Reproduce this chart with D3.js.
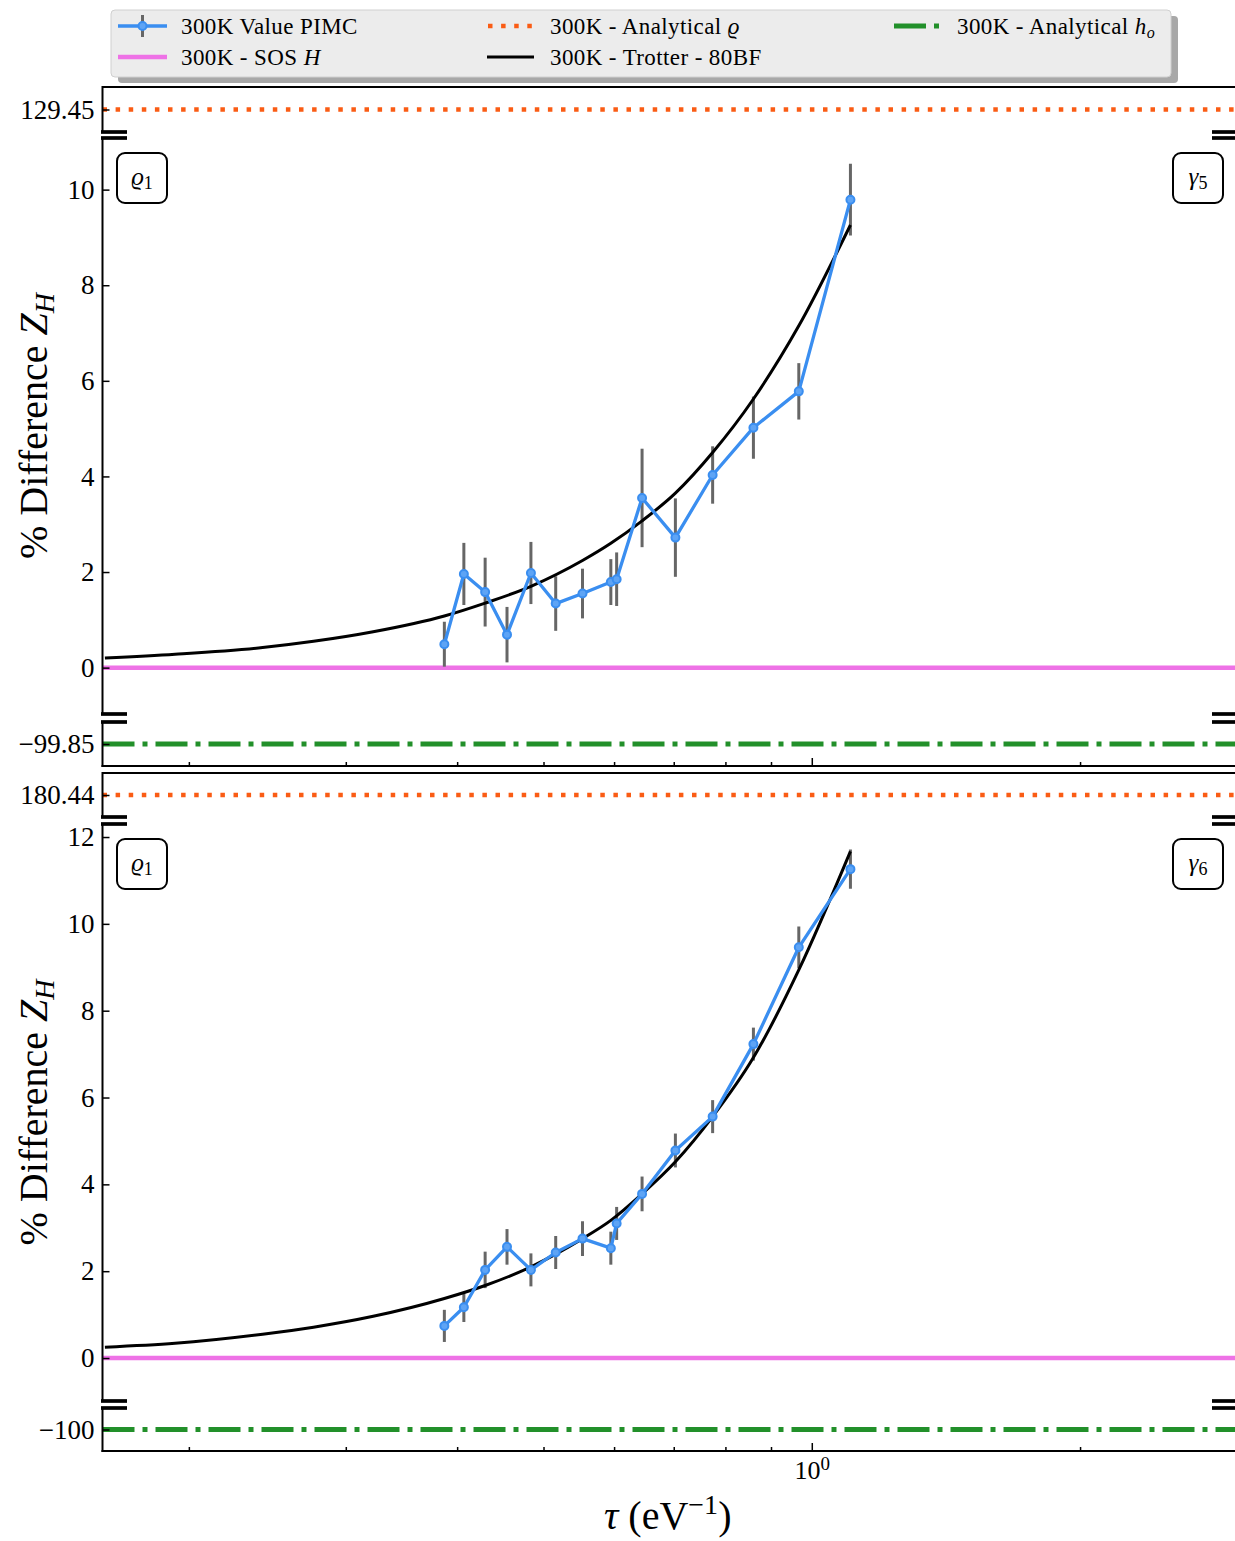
<!DOCTYPE html>
<html>
<head>
<meta charset="utf-8">
<script src="https://cdn.jsdelivr.net/npm/d3@7"></script>
<style>
  html, body { margin: 0; padding: 0; background: #fff; }
  svg { display: block; }
  text { font-family: "Liberation Serif", "DejaVu Serif", serif; fill: #000; }
</style>
</head>
<body>
<svg id="chart" width="1235" height="1541"></svg>
<script>
// Imaginary-time step tau = beta / P (eV^-1) of the PIMC runs at 300 K
const tau = [0.387, 0.407, 0.430, 0.455, 0.484, 0.516, 0.553, 0.595, 0.604, 0.645, 0.703, 0.774, 0.860, 0.967, 1.105];

// % difference of Z_H, system gamma5 (upper panel)
const pimcG5 = [0.49, 1.96, 1.58, 0.69, 1.98, 1.34, 1.55, 1.79, 1.85, 3.55, 2.72, 4.03, 5.02, 5.78, 9.79];
const errG5  = [0.47, 0.65, 0.72, 0.58, 0.65, 0.57, 0.52, 0.48, 0.56, 1.03, 0.82, 0.60, 0.65, 0.59, 0.75];

// % difference of Z_H, system gamma6 (lower panel)
const pimcG6 = [0.74, 1.17, 2.03, 2.56, 2.03, 2.43, 2.75, 2.53, 3.10, 3.78, 4.78, 5.56, 7.23, 9.46, 11.26];
const errG6  = [0.37, 0.34, 0.42, 0.41, 0.38, 0.38, 0.40, 0.38, 0.38, 0.40, 0.39, 0.38, 0.38, 0.48, 0.45];

// Trotter (80 basis functions) reference curve
const trotterTau = [0.161, 0.193, 0.242, 0.276, 0.322, 0.387, 0.430, 0.484, 0.553, 0.595, 0.645, 0.703, 0.774, 0.860, 0.967, 1.105];
const trotterG5  = [0.20, 0.28, 0.42, 0.55, 0.75, 1.08, 1.35, 1.70, 2.24, 2.60, 3.07, 3.65, 4.50, 5.62, 7.15, 9.26];
const trotterG6  = [0.25, 0.34, 0.55, 0.71, 0.96, 1.37, 1.67, 2.10, 2.75, 3.17, 3.78, 4.52, 5.56, 6.92, 8.94, 11.67];

// Constant reference levels per panel
const sosLevel      = [0, 0];
const analyticalRho = [129.45, 180.44];
const analyticalHo  = [-99.85, -100];

// Axis ticks
const yTicksG5 = [0, 2, 4, 6, 8, 10];
const yTicksG6 = [0, 2, 4, 6, 8, 10, 12];

// Panel tags
const basisTag  = ["ϱ", "1"];
const systemTag = [["γ", "5"], ["γ", "6"]];

// Legend entries (column-major order)
const legendLabels = [
  ["300K Value PIMC"],
  ["300K - SOS ", "H"],
  ["300K - Analytical ", "ϱ"],
  ["300K - Trotter - 80BF"],
  ["300K - Analytical ", "h", "o"]
];

const colors = {
  pimc: "#3a8ef0",
  err: "#666666",
  sos: "#ee72e6",
  rho: "#fa5c14",
  ho: "#22902a",
  trotter: "#000000"
};

const svg = d3.select("#chart");
const xL = 102.5, xR = 1237;
const x = d3.scaleLog().domain([0.16, 3.0]).range([xL, xR]);

const layout = [
  { top: [87, 132], main: [138, 714], bot: [722, 766], mainDomain: [-0.97, 11.08] },
  { top: [773, 817], main: [824, 1401], bot: [1408, 1451], mainDomain: [-0.99, 12.3] }
];
const series = [
  { pimc: pimcG5, err: errG5, trotter: trotterG5, ticks: yTicksG5 },
  { pimc: pimcG6, err: errG6, trotter: trotterG6, ticks: yTicksG6 }
];

const fmt = d => (d < 0 ? "\u2212" + Math.abs(d) : String(d));
const defs = svg.append("defs");

function clipRect(id, y0, y1) {
  defs.append("clipPath").attr("id", id)
    .append("rect").attr("x", xL).attr("y", y0).attr("width", xR - xL).attr("height", y1 - y0);
  return `url(#${id})`;
}

function styleAxis(g, size) {
  g.attr("font-size", size).attr("font-family", '"Liberation Serif","DejaVu Serif",serif');
  g.select(".domain").remove();
  g.selectAll(".tick line").attr("stroke", "#000").attr("stroke-width", 1.5);
}

layout.forEach((L, i) => {
  const S = series[i];
  const g = svg.append("g");

  const yTop = d3.scaleLinear().domain([analyticalRho[i] - 1, analyticalRho[i] + 1]).range([L.top[1], L.top[0]]);
  const yMain = d3.scaleLinear().domain(L.mainDomain).range([L.main[1], L.main[0]]);
  const yBot = d3.scaleLinear().domain([analyticalHo[i] - 1, analyticalHo[i] + 1]).range([L.bot[1], L.bot[0]]);

  // upper strip: analytical rho
  g.append("line")
    .attr("x1", xL).attr("x2", xR)
    .attr("y1", yTop(analyticalRho[i])).attr("y2", yTop(analyticalRho[i]))
    .attr("stroke", colors.rho).attr("stroke-width", 4.5)
    .attr("stroke-dasharray", "4.5,8.6");

  // main area
  const gm = g.append("g").attr("clip-path", clipRect("clipMain" + i, L.main[0], L.main[1]));

  gm.append("line")
    .attr("x1", xL).attr("x2", xR)
    .attr("y1", yMain(sosLevel[i])).attr("y2", yMain(sosLevel[i]))
    .attr("stroke", colors.sos).attr("stroke-width", 4.5);

  gm.selectAll("line.err").data(tau).join("line").attr("class", "err")
    .attr("x1", d => x(d)).attr("x2", d => x(d))
    .attr("y1", (d, k) => yMain(S.pimc[k] - S.err[k]))
    .attr("y2", (d, k) => yMain(S.pimc[k] + S.err[k]))
    .attr("stroke", colors.err).attr("stroke-width", 3);

  const trotterLine = d3.line()
    .x((d, k) => x(trotterTau[k]))
    .y(d => yMain(d))
    .curve(d3.curveMonotoneX);
  gm.append("path").datum(S.trotter)
    .attr("d", trotterLine)
    .attr("fill", "none").attr("stroke", colors.trotter).attr("stroke-width", 3);

  const pimcLine = d3.line()
    .x((d, k) => x(tau[k]))
    .y(d => yMain(d));
  gm.append("path").datum(S.pimc)
    .attr("d", pimcLine)
    .attr("fill", "none").attr("stroke", colors.pimc).attr("stroke-width", 3.3)
    .attr("stroke-linejoin", "round");

  gm.selectAll("circle.pt").data(S.pimc).join("circle").attr("class", "pt")
    .attr("cx", (d, k) => x(tau[k])).attr("cy", d => yMain(d))
    .attr("r", 4).attr("fill", "#5ea4f5").attr("stroke", colors.pimc).attr("stroke-width", 2);

  // lower strip: analytical h_o
  g.append("line")
    .attr("x1", xL).attr("x2", xR)
    .attr("y1", yBot(analyticalHo[i])).attr("y2", yBot(analyticalHo[i]))
    .attr("stroke", colors.ho).attr("stroke-width", 5)
    .attr("stroke-dasharray", "32,8,5,8");

  // spines
  const spine = (x1, y1, x2, y2) => g.append("line")
    .attr("x1", x1).attr("y1", y1).attr("x2", x2).attr("y2", y2)
    .attr("stroke", "#000").attr("stroke-width", 2);
  spine(xL, L.top[0], xR, L.top[0]);
  spine(xL, L.top[0] - 1, xL, L.top[1]);
  spine(xL, L.main[0], xL, L.main[1]);
  spine(xL, L.bot[0], xL, L.bot[1] + 1);
  spine(xL - 1, L.bot[1], xR, L.bot[1]);

  // break marks
  [L.top[1], L.main[0], L.main[1], L.bot[0]].forEach(yy => {
    g.append("line").attr("x1", xL - 1.5).attr("x2", xL + 24.5).attr("y1", yy).attr("y2", yy)
      .attr("stroke", "#000").attr("stroke-width", 3.7);
    g.append("line").attr("x1", xR - 25).attr("x2", xR + 1).attr("y1", yy).attr("y2", yy)
      .attr("stroke", "#000").attr("stroke-width", 3.7);
  });

  // y axes
  const yAxis = (scale, vals) => g.append("g")
    .attr("transform", `translate(${xL},0)`)
    .call(d3.axisLeft(scale).tickValues(vals).tickSizeInner(-7).tickSizeOuter(0).tickPadding(8).tickFormat(fmt))
    .call(a => styleAxis(a, 27));
  yAxis(yTop, [analyticalRho[i]]);
  yAxis(yMain, S.ticks);
  yAxis(yBot, [analyticalHo[i]]);

  // x axis ticks on the bottom spine
  const allTicks = x.ticks();
  const isMajor = t => Math.abs(Math.log10(t) - Math.round(Math.log10(t))) < 1e-9;
  g.append("g").attr("transform", `translate(0,${L.bot[1]})`)
    .call(d3.axisBottom(x).tickValues(allTicks.filter(t => !isMajor(t))).tickSizeInner(-4).tickSizeOuter(0).tickFormat(""))
    .call(a => styleAxis(a, 26));
  const major = g.append("g").attr("transform", `translate(0,${L.bot[1]})`)
    .call(d3.axisBottom(x).tickValues(allTicks.filter(isMajor)).tickSizeInner(-8).tickSizeOuter(0).tickPadding(10)
      .tickFormat(i === 1 ? (d => "10") : ""))
    .call(a => styleAxis(a, 26));
  if (i === 1) {
    major.selectAll(".tick text").each(function (d) {
      const t = d3.select(this);
      t.text(null);
      t.append("tspan").text("10");
      t.append("tspan").attr("dy", -9).attr("font-size", 19).text(String(Math.round(Math.log10(d))));
    });
  }

  // y label
  const ylab = g.append("text")
    .attr("transform", `translate(47,${(L.main[0] + L.main[1]) / 2}) rotate(-90)`)
    .attr("text-anchor", "middle").attr("font-size", 40);
  ylab.append("tspan").text("% Difference ");
  ylab.append("tspan").attr("font-style", "italic").text("Z");
  ylab.append("tspan").attr("font-style", "italic").attr("font-size", 28).attr("dy", 7).text("H");

  // panel tags
  const tag = (bx, sym, sub) => {
    g.append("rect").attr("x", bx).attr("y", L.main[0] + 15).attr("width", 50).attr("height", 50)
      .attr("rx", 8).attr("fill", "#fff").attr("stroke", "#000").attr("stroke-width", 2);
    const t = g.append("text").attr("x", bx + 25).attr("y", L.main[0] + 47)
      .attr("text-anchor", "middle").attr("font-size", 25);
    t.append("tspan").attr("font-style", "italic").text(sym);
    t.append("tspan").attr("font-size", 18).attr("dy", 4).text(sub);
  };
  tag(117, basisTag[0], basisTag[1]);
  tag(1173, systemTag[i][0], systemTag[i][1]);
});

// x label
const xlab = svg.append("text")
  .attr("x", (xL + xR) / 2 - 2).attr("y", 1529)
  .attr("text-anchor", "middle").attr("font-size", 40);
xlab.append("tspan").attr("font-style", "italic").text("τ");
xlab.append("tspan").text(" (eV");
xlab.append("tspan").attr("font-size", 28).attr("dy", -15).text("\u22121");
xlab.append("tspan").attr("dy", 15).text(")");

// legend
const lg = svg.append("g");
lg.append("rect").attr("x", 118).attr("y", 16).attr("width", 1060).attr("height", 67)
  .attr("rx", 4).attr("fill", "#a8a8a8");
lg.append("rect").attr("x", 111).attr("y", 10).attr("width", 1060).attr("height", 67)
  .attr("rx", 4).attr("fill", "#ececec").attr("stroke", "#d0d0d0").attr("stroke-width", 1);

const colX = [118, 487, 894];
const rowY = [26, 57];
const slots = [[0, 0], [0, 1], [1, 0], [1, 1], [2, 0]];
const handles = [
  h => {
    h.append("line").attr("x1", 0).attr("x2", 49).attr("y1", 0).attr("y2", 0)
      .attr("stroke", colors.pimc).attr("stroke-width", 3.3);
    h.append("line").attr("x1", 24.5).attr("x2", 24.5).attr("y1", -11).attr("y2", 11)
      .attr("stroke", colors.err).attr("stroke-width", 3);
    h.append("circle").attr("cx", 24.5).attr("cy", 0).attr("r", 4)
      .attr("fill", "#5ea4f5").attr("stroke", colors.pimc).attr("stroke-width", 2);
  },
  h => h.append("line").attr("x1", 0).attr("x2", 49).attr("stroke", colors.sos).attr("stroke-width", 4.5),
  h => h.append("line").attr("x1", 1).attr("x2", 49).attr("stroke", colors.rho).attr("stroke-width", 4.5)
        .attr("stroke-dasharray", "4.5,8.6"),
  h => h.append("line").attr("x1", 0).attr("x2", 47).attr("stroke", colors.trotter).attr("stroke-width", 3),
  h => h.append("line").attr("x1", 0).attr("x2", 49).attr("stroke", colors.ho).attr("stroke-width", 5)
        .attr("stroke-dasharray", "32,8,5,8")
];
legendLabels.forEach((lab, k) => {
  const [c, r] = slots[k];
  const h = lg.append("g").attr("transform", `translate(${colX[c]},${rowY[r]})`);
  handles[k](h);
  const t = lg.append("text").attr("x", colX[c] + 63).attr("y", rowY[r] + 8)
    .attr("font-size", 23).attr("letter-spacing", 0.4);
  t.append("tspan").text(lab[0]);
  if (lab[1]) t.append("tspan").attr("font-style", "italic").text(lab[1]);
  if (lab[2]) t.append("tspan").attr("font-style", "italic").attr("font-size", 16).attr("dy", 4).text(lab[2]);
});
</script>
</body>
</html>
